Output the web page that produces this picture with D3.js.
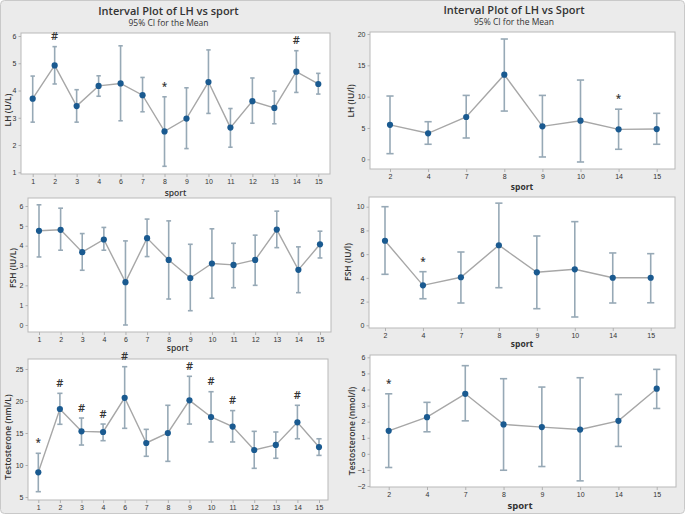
<!DOCTYPE html>
<html>
<head>
<meta charset="utf-8">
<script src="https://cdn.jsdelivr.net/npm/d3@7"></script>
<style>
    body { margin: 0; background: #fff; }
    svg { display: block; font-family: "Open Sans", "DejaVu Sans", sans-serif; }
    .tick-label { font-size: 7px; fill: #333; }
</style>
</head>
<body>
<svg id="chart" width="685" height="514"></svg>
<script>
// categories
const sports_left = [1, 2, 3, 4, 6, 7, 8, 9, 10, 11, 12, 13, 14, 15];
const sports_right = [2, 4, 7, 8, 9, 10, 14, 15];

// LH, left (U/L)
const lh_left_mean = [3.70, 4.92, 3.43, 4.17, 4.26, 3.83, 2.50, 2.97, 4.31, 2.64, 3.61, 3.36, 4.69, 4.24];
const lh_left_low = [2.84, 4.24, 2.84, 3.79, 2.89, 3.22, 1.22, 1.87, 3.16, 1.92, 2.80, 2.78, 3.93, 3.87];
const lh_left_high = [4.53, 5.61, 4.03, 4.54, 5.64, 4.48, 3.77, 4.10, 5.49, 3.34, 4.46, 3.98, 5.46, 4.63];
const lh_left_marks = [[2, "#"], [8, "*"], [14, "#"]];

// LH, right (IU/l)
const lh_right_mean = [5.50, 4.15, 6.75, 13.5, 5.26, 6.16, 4.78, 4.83];
const lh_right_low = [0.90, 2.40, 3.40, 7.70, 0.37, -0.43, 1.60, 2.40];
const lh_right_high = [10.1, 6.00, 10.2, 19.2, 10.2, 12.65, 8.00, 7.34];
const lh_right_marks = [[14, "*"]];

// FSH, left (IU/L)
const fsh_left_mean = [4.75, 4.80, 3.67, 4.31, 2.16, 4.38, 3.28, 2.37, 3.10, 3.03, 3.28, 4.81, 2.78, 4.07];
const fsh_left_low = [3.43, 3.77, 2.76, 3.77, 0.00, 3.45, 1.31, 0.72, 1.35, 1.88, 2.00, 3.90, 1.63, 3.38];
const fsh_left_high = [6.06, 5.89, 4.61, 4.92, 4.24, 5.34, 5.25, 4.07, 4.85, 4.12, 4.53, 5.74, 3.94, 4.73];

// FSH, right (IU/l)
const fsh_right_mean = [7.13, 3.37, 4.05, 6.75, 4.47, 4.72, 4.01, 4.01];
const fsh_right_low = [4.30, 2.24, 1.88, 3.17, 1.40, 0.70, 1.88, 1.90];
const fsh_right_high = [10.0, 4.52, 6.18, 10.3, 7.53, 8.74, 6.10, 6.04];
const fsh_right_marks = [[4, "*"]];

// Testosterone, left (nml/L)
const testo_left_mean = [8.86, 18.75, 15.26, 15.16, 20.5, 13.44, 15.0, 20.1, 17.5, 16.0, 12.34, 13.13, 16.67, 12.8];
const testo_left_low = [5.83, 16.36, 13.12, 13.8, 15.73, 11.36, 10.57, 16.4, 13.6, 13.6, 9.48, 11.05, 14.1, 11.5];
const testo_left_high = [11.83, 21.2, 17.34, 16.4, 25.36, 15.57, 19.33, 23.86, 21.45, 18.5, 15.26, 15.16, 19.33, 14.1];
const testo_left_marks = [[1, "*"], [2, "#"], [3, "#"], [4, "#"], [6, "#"], [9, "#"], [10, "#"], [11, "#"], [14, "#"]];

// Testosterone, right (nmol/l)
const testo_right_mean = [1.43, 2.28, 3.73, 1.83, 1.66, 1.51, 2.05, 4.05];
const testo_right_low = [-0.85, 1.37, 2.05, -1.02, -0.79, -1.68, 0.46, 2.82];
const testo_right_high = [3.73, 3.20, 5.48, 4.67, 4.15, 4.73, 3.69, 5.25];
const testo_right_marks = [[2, "*"]];

// y tick values
const ticks_lh_left = [1, 2, 3, 4, 5, 6];
const ticks_lh_right = [0, 5, 10, 15, 20];
const ticks_fsh_left = [0, 1, 2, 3, 4, 5, 6];
const ticks_fsh_right = [0, 2, 4, 6, 8, 10];
const ticks_testo_left = [5, 10, 15, 20, 25];
const ticks_testo_right = [-2, -1, 0, 1, 2, 3, 4, 5, 6];

const panels = [
    {
        sports: sports_left, mean: lh_left_mean, low: lh_left_low, high: lh_left_high,
        marks: lh_left_marks, ticks: ticks_lh_left, y_label: "LH (U/L)",
        title: "Interval Plot of LH vs sport", subtitle: "95% CI for the Mean",
        x_label: "sport",
        layout: { box: [21, 330, 33, 174], x: [32.7, 318.3], y: [[1, 172.3], [6, 36]],
            title_x: 168.5, title_y: 15, ylab: [7, 110], xlab: [175.5, 192, 600], cap: 2.2 }
    },
    {
        sports: sports_right, mean: lh_right_mean, low: lh_right_low, high: lh_right_high,
        marks: lh_right_marks, ticks: ticks_lh_right, y_label: "LH (IU/l)",
        title: "Interval Plot of LH vs Sport", subtitle: "95% CI for the Mean",
        x_label: "sport",
        layout: { box: [370, 675, 32, 169], x: [390, 656.7], y: [[0, 159.3], [20, 34]],
            title_x: 514, title_y: 14, ylab: [350, 101], xlab: [522, 186, 700], cap: 3.6 }
    },
    {
        sports: sports_left, mean: fsh_left_mean, low: fsh_left_low, high: fsh_left_high,
        marks: [], ticks: ticks_fsh_left, y_label: "FSH (IU/L)",
        x_label: "sport",
        layout: { box: [28, 331, 198, 332], x: [39, 320], y: [[0, 325], [6, 206]],
            ylab: [12, 268], xlab: [177.7, 347, 600], cap: 2.4 }
    },
    {
        sports: sports_right, mean: fsh_right_mean, low: fsh_right_low, high: fsh_right_high,
        marks: fsh_right_marks, ticks: ticks_fsh_right, y_label: "FSH (IU/l)",
        x_label: "sport",
        layout: { box: [369, 675, 197, 328], x: [385, 650.7], y: [[0, 325.3], [10, 206.7]],
            ylab: [347.5, 262], xlab: [522, 343, 700], cap: 3.6 }
    },
    {
        sports: sports_left, mean: testo_left_mean, low: testo_left_low, high: testo_left_high,
        marks: testo_left_marks, ticks: ticks_testo_left, y_label: "Testosterone (nml/L)",
        layout: { box: [28, 328, 359, 500], x: [38.3, 319], y: [[5, 497], [25, 369]],
            ylab: [7, 437], cap: 2.6 }
    },
    {
        sports: sports_right, mean: testo_right_mean, low: testo_right_low, high: testo_right_high,
        marks: testo_right_marks, ticks: ticks_testo_right, y_label: "Testosterone (nmol/l)",
        x_label: "sport",
        layout: { box: [370, 676, 355, 487], x: [388.7, 656.7], y: [[-2, 486], [6, 357.3]],
            ylab: [351.5, 431], xlab: [520, 505.5, 700], cap: 3.6 }
    }
];

const svg = d3.select("#chart");

svg.
append("rect").
attr("x", 0.5).
attr("y", 0.5).
attr("width", 684).
attr("height", 513).
attr("rx", 4).
attr("fill", "#ebebeb").
attr("stroke", "#c9c9c9");

function drawPanel(p) {
    const L = p.layout;
    const [x0, x1, y0, y1] = L.box;
    const g = svg.append("g");

    const x = d3.
    scalePoint().
    domain(p.sports).
    range(L.x).
    padding(0);

    const y = d3.
    scaleLinear().
    domain([L.y[0][0], L.y[1][0]]).
    range([L.y[0][1], L.y[1][1]]);

    // plot area
    g.
    append("rect").
    attr("x", x0).
    attr("y", y0).
    attr("width", x1 - x0).
    attr("height", y1 - y0).
    attr("fill", "#fff").
    attr("stroke", "#b9b9b9").
    attr("stroke-width", 1);

    // axes
    const yAxis = g.
    append("g").
    attr("transform", `translate(${x0},0)`).
    call(d3.axisLeft(y).tickValues(p.ticks).tickFormat(d3.format("d")).tickSize(2.5).tickPadding(2));

    const xAxis = g.
    append("g").
    attr("transform", `translate(0,${y1})`).
    call(d3.axisBottom(x).tickSize(3).tickPadding(2));

    [yAxis, xAxis].forEach(a => {
        a.select(".domain").remove();
        a.selectAll(".tick line").attr("stroke", "#b0b0b0");
        a.selectAll(".tick text").
        attr("class", "tick-label").
        attr("font-family", null).
        attr("font-size", null);
    });

    const rows = p.sports.map((s, i) => ({
        sport: s, mean: p.mean[i], low: p.low[i], high: p.high[i]
    }));

    // interval bars
    const bars = g.
    append("g").
    attr("stroke", "#97a9b6").
    attr("stroke-width", 1.6).
    selectAll("g").
    data(rows).
    join("g");

    bars.
    append("line").
    attr("x1", d => x(d.sport)).
    attr("x2", d => x(d.sport)).
    attr("y1", d => y(d.low)).
    attr("y2", d => y(d.high));

    bars.
    append("line").
    attr("x1", d => x(d.sport) - L.cap).
    attr("x2", d => x(d.sport) + L.cap).
    attr("y1", d => y(d.high)).
    attr("y2", d => y(d.high));

    bars.
    append("line").
    attr("x1", d => x(d.sport) - L.cap).
    attr("x2", d => x(d.sport) + L.cap).
    attr("y1", d => y(d.low)).
    attr("y2", d => y(d.low));

    // mean connect line
    g.
    append("path").
    datum(rows).
    attr("fill", "none").
    attr("stroke", "#a7a7a7").
    attr("stroke-width", 1.4).
    attr("d", d3.line().x(d => x(d.sport)).y(d => y(d.mean)));

    g.
    append("g").
    selectAll("circle").
    data(rows).
    join("circle").
    attr("cx", d => x(d.sport)).
    attr("cy", d => y(d.mean)).
    attr("r", 3.1).
    attr("fill", "#1a5a90");

    // significance marks
    g.
    append("g").
    selectAll("text").
    data(p.marks).
    join("text").
    attr("x", d => x(d[0])).
    attr("y", d => y(p.high[p.sports.indexOf(d[0])]) - 11).
    attr("text-anchor", "middle").
    attr("dominant-baseline", "central").
    attr("font-size", d => d[1] === "#" ? 11 : 10).
    attr("font-weight", 600).
    attr("fill", "#333").
    text(d => d[1]);

    // titles
    if (p.title) {
        g.
        append("text").
        attr("x", L.title_x).
        attr("y", L.title_y).
        attr("text-anchor", "middle").
        attr("font-size", 11).
        attr("font-weight", 600).
        attr("fill", "#333").
        text(p.title);

        g.
        append("text").
        attr("x", L.title_x).
        attr("y", L.title_y + 11).
        attr("text-anchor", "middle").
        attr("font-size", 8.5).
        attr("fill", "#333").
        text(p.subtitle);
    }

    g.
    append("text").
    attr("transform", `translate(${L.ylab[0]},${L.ylab[1]}) rotate(-90)`).
    attr("text-anchor", "middle").
    attr("dominant-baseline", "central").
    attr("font-size", 8.5).
    attr("font-weight", 600).
    attr("fill", "#333").
    text(p.y_label);

    if (p.x_label) {
        g.
        append("text").
        attr("x", L.xlab[0]).
        attr("y", L.xlab[1]).
        attr("text-anchor", "middle").
        attr("dominant-baseline", "central").
        attr("font-size", L.xlab[1] > 500 ? 9.5 : 8.5).
        attr("font-weight", L.xlab[2]).
        attr("fill", "#333").
        text(p.x_label);
    }
}

panels.forEach(drawPanel);
</script>
</body>
</html>
